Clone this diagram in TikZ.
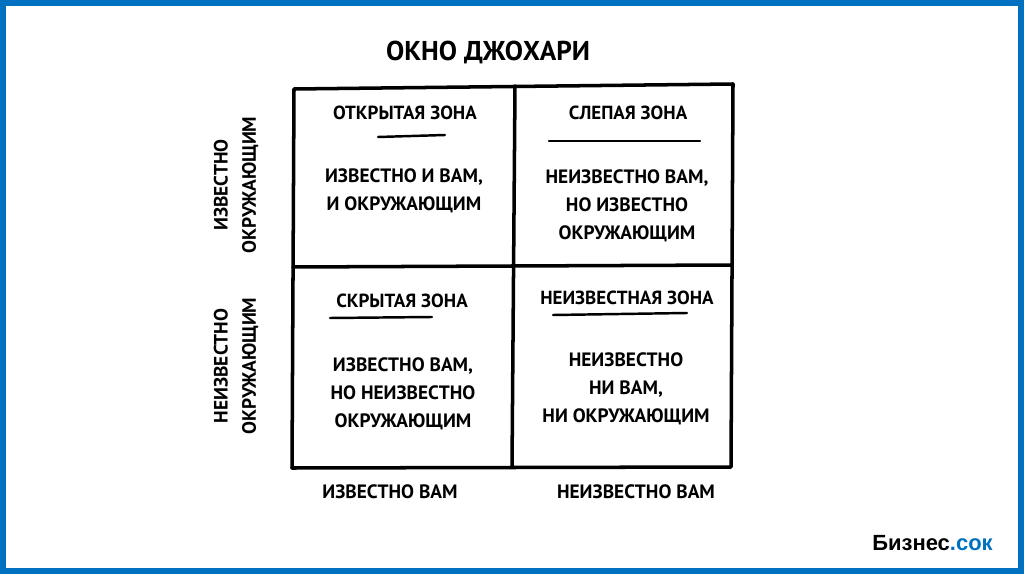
\documentclass[tikz,border=0pt]{standalone}
\usepackage{fontspec}
\setmainfont{PT Sans}
\newfontfamily\logofont{Liberation Sans}
\definecolor{frameblue}{RGB}{0,112,192}
\begin{document}
\begin{tikzpicture}[x=0.02cm, y=-0.02cm,
  hand/.style={line width=2pt, line cap=round, line join=round},
  uline/.style={line width=1.4pt, line cap=round},
  zonehead/.style={font=\bfseries\fontsize{10.8}{13}\selectfont},
  zonetext/.style={align=center, font=\bfseries\fontsize{11}{16}\selectfont},
  sidetext/.style={align=center, rotate=90, font=\bfseries\fontsize{11}{16}\selectfont}]

\useasboundingbox (0,0) rectangle (1024,574);
\draw[frameblue, line width=6*0.02cm] (3,3) rectangle (1021,571);

% title
\node[font=\bfseries\fontsize{15.5}{18}\selectfont] (title) at (488,52) {ОКНО ДЖОХАРИ};

% window
\coordinate (tl) at (294,89);  \coordinate (tr) at (733,84);
\coordinate (br) at (731,467); \coordinate (bl) at (292,468);
\coordinate (mt) at (515,86);  \coordinate (mb) at (512,467);
\coordinate (ml) at (293,267); \coordinate (mr) at (732,265);
\draw[hand] (tl) -- (tr) -- (br) -- (bl) -- cycle;
\draw[hand] (mt) -- (mb);
\draw[hand] (ml) -- (mr);

% open zone
\node[zonehead] (openh) at (405,113) {ОТКРЫТАЯ ЗОНА};
\draw[uline] (378,137) -- (445,135);
\node[zonetext] (opent) at (404,191) {ИЗВЕСТНО И ВАМ,\\И ОКРУЖАЮЩИМ};

% blind zone
\node[zonehead] (blindh) at (628,113) {СЛЕПАЯ ЗОНА};
\draw[uline] (549,141) -- (700,141);
\node[zonetext] (blindt) at (627,206) {НЕИЗВЕСТНО ВАМ,\\НО ИЗВЕСТНО\\ОКРУЖАЮЩИМ};

% hidden zone
\node[zonehead] (hiddenh) at (402,301) {СКРЫТАЯ ЗОНА};
\draw[uline] (330,318) -- (432,317);
\node[zonetext] (hiddent) at (403,394) {ИЗВЕСТНО ВАМ,\\НО НЕИЗВЕСТНО\\ОКРУЖАЮЩИМ};

% unknown zone
\node[zonehead] (unknownh) at (627,298) {НЕИЗВЕСТНАЯ ЗОНА};
\draw[uline] (553,315) -- (687,313);
\node[zonetext] (unknownt) at (626,389) {НЕИЗВЕСТНО\\НИ ВАМ,\\НИ ОКРУЖАЮЩИМ};

% axes
\node[sidetext] (knownoth) at (236,185) {ИЗВЕСТНО\\ОКРУЖАЮЩИМ};
\node[sidetext] (unknownoth) at (236,366) {НЕИЗВЕСТНО\\ОКРУЖАЮЩИМ};
\node[zonetext] (knownyou) at (390,492) {ИЗВЕСТНО ВАМ};
\node[zonetext] (unknownyou) at (636,492) {НЕИЗВЕСТНО ВАМ};

\node[anchor=east, inner sep=0pt, font=\logofont\bfseries\fontsize{12.5}{13}\selectfont]
  (logo) at (993,543) {Бизнес\textcolor{frameblue}{.сок}};

\end{tikzpicture}
\end{document}
